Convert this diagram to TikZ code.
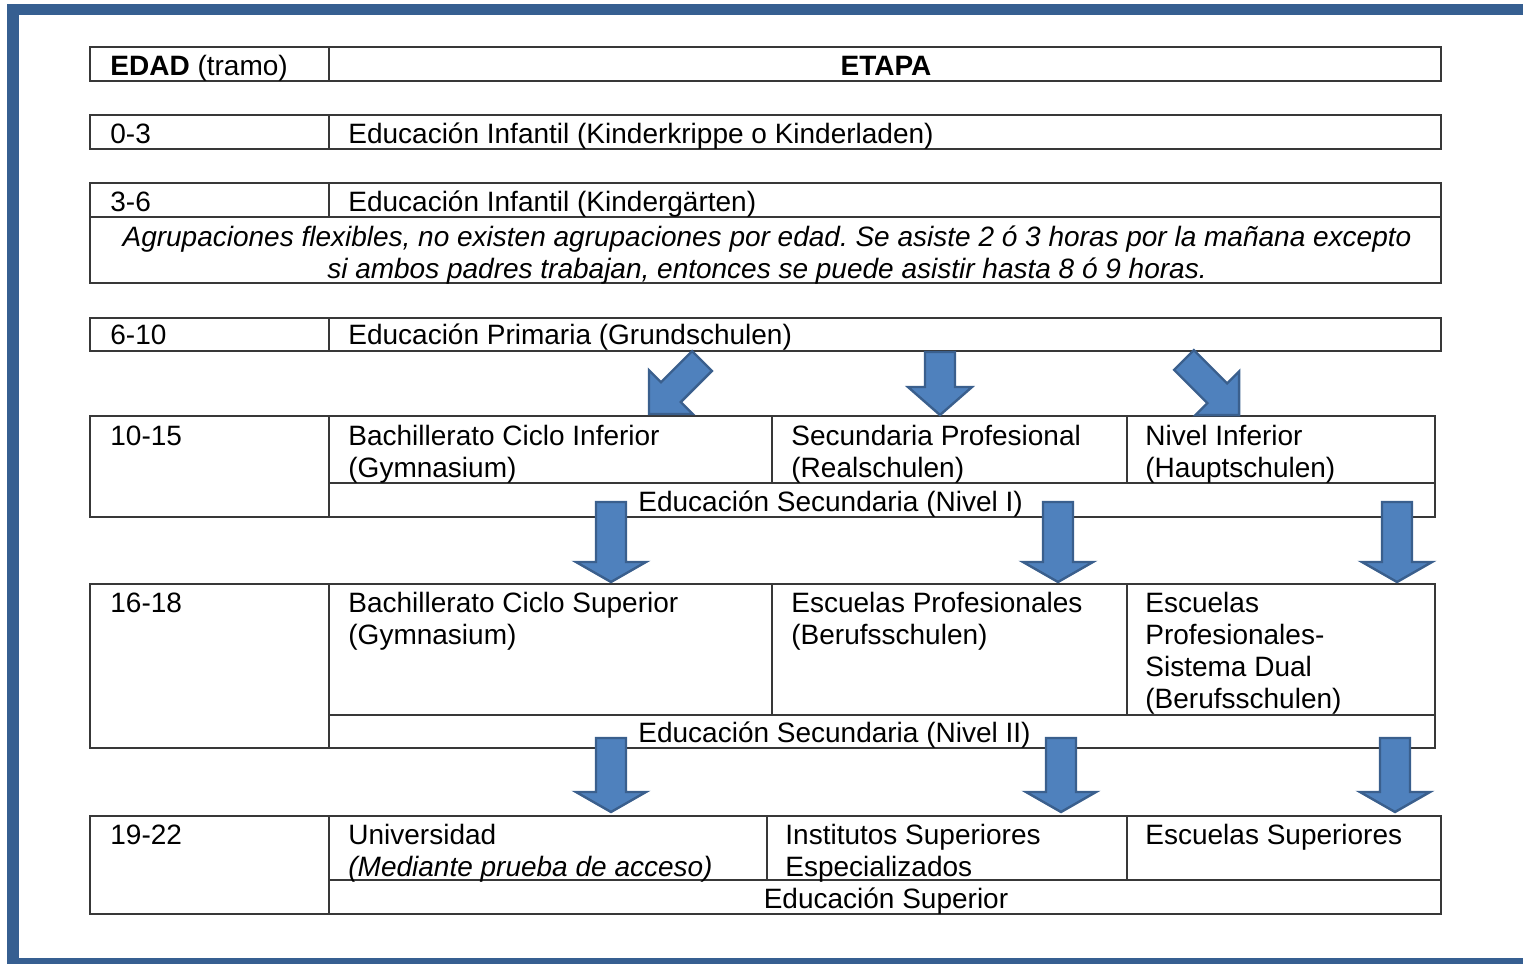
\documentclass[tikz,border=0pt]{standalone}
\usepackage{fontspec}
\setmainfont{Liberation Sans}
\usepackage{xcolor}
\frenchspacing
\definecolor{frameBlue}{HTML}{365F91}
\definecolor{arrowFill}{HTML}{4F81BD}
\definecolor{arrowDraw}{HTML}{3A5F8D}
\definecolor{gridGray}{HTML}{383838}
\tikzset{
    CellText/.style={font=\fontsize{14}{16}\selectfont, anchor=base west, inner sep=0pt, align=left},
    HeadText/.style={font=\fontsize{14}{16}\selectfont, anchor=base, inner sep=0pt},
    NoteText/.style={font=\fontsize{14}{16}\selectfont\itshape, anchor=base, inner sep=0pt},
    GridLine/.style={draw=gridGray, line width=0.9pt},
    BlockArrow/.style={fill=arrowFill, draw=arrowDraw, line width=1.2pt, line join=miter}
}
% flecha de bloque: origen, angulo, largo, medio cuerpo, media punta, largo punta
\newcommand{\blockArrow}[6]{%
    \begin{scope}[shift={#1}, rotate=#2]
        \draw[BlockArrow] (0,-#4) -- ({#3-#6},-#4) -- ({#3-#6},-#5) -- (#3,0)
            -- ({#3-#6},#5) -- ({#3-#6},#4) -- (0,#4) -- cycle;
    \end{scope}}

\begin{document}
\begin{tikzpicture}[x=0.5pt, y=-0.5pt]
    \useasboundingbox (0,0) rectangle (1523,964);
    % columnas de la tabla
    \def\colA{90}
    \def\colB{329}
    \def\xEnd{1441}
    \def\xEndB{1435}
    % (los nodos de varias lineas se colocan por la base de su ultima linea)

    % --- marco azul ---
    \fill[frameBlue] (7,4) rectangle (19,964);
    \fill[frameBlue] (7,4) rectangle (1523,15);
    \fill[frameBlue] (7,958) rectangle (1523,964);

    % --- filas simples ---
    \draw[GridLine] (\colA,47) rectangle (\xEnd,81) (\colB,47) -- (\colB,81);
    \node[CellText] (edad) at (110,75) {\textbf{EDAD} (tramo)};
    \node[HeadText] (etapa) at (886,75) {\textbf{ETAPA}};

    \draw[GridLine] (\colA,115) rectangle (\xEnd,149) (\colB,115) -- (\colB,149);
    \node[CellText] (e03) at (110,143) {0-3};
    \node[CellText] (s03) at (348,143) {Educación Infantil (Kinderkrippe o Kinderladen)};

    \draw[GridLine] (\colA,183) rectangle (\xEnd,283) (\colB,183) -- (\colB,217)
        (\colA,217) -- (\xEnd,217);
    \node[CellText] (e36) at (110,211) {3-6};
    \node[CellText] (s36) at (348,211) {Educación Infantil (Kindergärten)};
    \node[NoteText] (nota1) at (767,246) {Agrupaciones flexibles, no existen agrupaciones por edad. Se asiste 2 ó 3 horas por la mañana excepto};
    \node[NoteText] (nota2) at (767,278) {si ambos padres trabajan, entonces se puede asistir hasta 8 ó 9 horas.};

    \draw[GridLine] (\colA,318) rectangle (\xEnd,351) (\colB,318) -- (\colB,351);
    \node[CellText] (e610) at (110,344) {6-10};
    \node[CellText] (s610) at (348,344) {Educación Primaria (Grundschulen)};

    % --- 10-15 ---
    \draw[GridLine] (\colA,416) rectangle (\xEndB,517) (\colB,416) -- (\colB,517)
        (\colB,483) -- (\xEndB,483) (772,416) -- (772,483) (1127,416) -- (1127,483);
    \node[CellText] (e1015) at (110,445) {10-15};
    \node[CellText] (gymA) at (348,477) {Bachillerato Ciclo Inferior\\(Gymnasium)};
    \node[CellText] (real) at (791,477) {Secundaria Profesional\\(Realschulen)};
    \node[CellText] (haupt) at (1145,477) {Nivel Inferior\\(Hauptschulen)};
    \node[CellText] (nivelA) at (638,511) {Educación Secundaria (Nivel I)};

    % --- 16-18 ---
    \draw[GridLine] (\colA,584) rectangle (\xEndB,748) (\colB,584) -- (\colB,748)
        (\colB,715) -- (\xEndB,715) (772,584) -- (772,715) (1127,584) -- (1127,715);
    \node[CellText] (e1618) at (110,612) {16-18};
    \node[CellText] (gymB) at (348,644) {Bachillerato Ciclo Superior\\(Gymnasium)};
    \node[CellText] (beruf) at (791,644) {Escuelas Profesionales\\(Berufsschulen)};
    \node[CellText] (dual) at (1145,708) {Escuelas\\Profesionales-\\Sistema Dual\\(Berufsschulen)};
    \node[CellText] (nivelB) at (638,742) {Educación Secundaria (Nivel II)};

    % --- 19-22 ---
    \draw[GridLine] (\colA,816) rectangle (\xEnd,914) (\colB,816) -- (\colB,914)
        (\colB,880) -- (\xEnd,880) (767,816) -- (767,880) (1127,816) -- (1127,880);
    \node[CellText] (e1922) at (110,844) {19-22};
    \node[CellText] (uni) at (348,876) {Universidad\\\textit{(Mediante prueba de acceso)}};
    \node[CellText] (inst) at (785,876) {Institutos Superiores\\Especializados};
    \node[CellText] (escS) at (1145,844) {Escuelas Superiores};
    \node[HeadText] (sup) at (886,908) {Educación Superior};

    % --- flechas ---
    \blockArrow{(702,361)}{-135}{75}{14}{31}{31}
    \blockArrow{(940,352)}{-90}{63}{15}{32}{28}
    \blockArrow{(1184,360)}{-45}{78}{14}{31}{31}
    \foreach \ax in {611, 1058, 1397}
        \blockArrow{(\ax,502)}{-90}{80}{15}{35}{20};
    \foreach \ax in {611, 1061, 1395}
        \blockArrow{(\ax,738)}{-90}{74}{15}{35}{20};
\end{tikzpicture}
\end{document}
